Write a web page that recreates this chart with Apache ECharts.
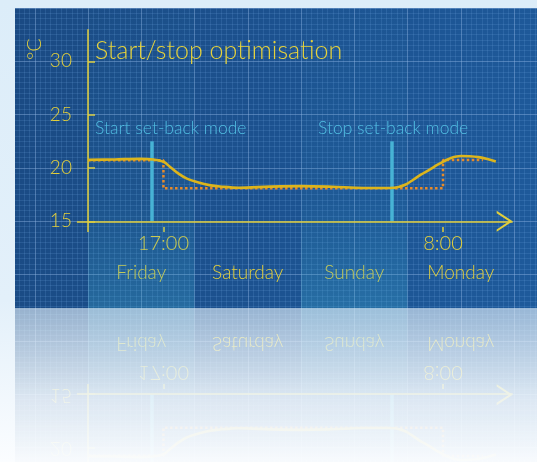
<!DOCTYPE html>
<html><head><meta charset="utf-8">
<script src="https://cdn.jsdelivr.net/npm/echarts@6/dist/echarts.min.js"></script>
<style>
html,body{margin:0;padding:0;width:537px;height:462px;overflow:hidden;}
body{background:linear-gradient(to bottom,#dcedf9 0px,#e3f0fa 300px,#fbfdff 462px);}
#chart{position:absolute;left:15px;top:8px;width:522px;height:300px;
background:linear-gradient(100deg,#1a4a83 0%,#1c5290 50%,#1e5a9b 100%);
-webkit-box-reflect: below 0px linear-gradient(to bottom, rgba(0,0,0,0) 45%, rgba(0,0,0,0.1) 70%, rgba(0,0,0,0.38) 100%);}
</style></head><body><div id="chart"></div>
<script>
// hours counted from Friday 00:00
const roomHours = [0, 6, 11.7, 14.7, 17, 18.5, 20.4, 22.3, 24.5, 27.6, 29.8, 34, 41, 48, 55, 62, 68, 70, 71.6, 73.3, 75, 77, 78.8, 80.3, 81.8, 84, 86, 88, 90, 91.9];
const roomTemp  = [20.76, 20.8, 20.86, 20.8, 20.58, 20.1, 19.47, 19.0, 18.69, 18.37, 18.26, 18.15, 18.25, 18.3, 18.24, 18.13, 18.13, 18.22, 18.45, 18.9, 19.37, 19.85, 20.31, 20.65, 20.94, 21.12, 21.1, 21.02, 20.85, 20.62];
const setHours = [0, 17, 80, 89];
const setTemp  = [20.72, 18.1, 20.75, 20.75];
const setbackStart = 14.4, setbackStop = 68.5, setbackBarTop = 22.5;
const timeTicks = [17, 80];
const timeLabels = ['17:00', '8:00'];
const dayCenters = [12, 36, 60, 84];
const dayNames = ['Friday', 'Saturday', 'Sunday', 'Monday'];
const yTicks = [15, 20, 25, 30];
const dayBands = [[0, 24], [48, 72]];

const FONT = 'Lato, "Open Sans", sans-serif';
const YEL = '#e2cf3c';
const CYAN = '#52bfe3';

const pairs = (xs, ys) => xs.map((x, i) => [x, ys[i]]);

const chart = echarts.init(document.getElementById('chart'), null, {renderer: 'canvas'});
chart.setOption({
  animation: false,
  backgroundColor: 'transparent',
  grid: [
    {left: 61.91, right: 24.33, top: 21.33, bottom: 76, outerBoundsMode: 'none', containLabel: false},
    {left: -33.5, right: -30.25, top: 0, bottom: -20, outerBoundsMode: 'none', containLabel: false}
  ],
  xAxis: [
    {gridIndex: 0, type: 'value', min: -2.5, max: 95.7, position: 'bottom',
     axisLine: {show: false}, splitLine: {show: false},
     axisTick: {show: true, inside: true, length: 5, customValues: timeTicks, lineStyle: {color: YEL, width: 1.5}},
     axisLabel: {show: true, customValues: timeTicks, margin: 2, color: YEL, fontSize: 20, fontFamily: FONT, fontWeight: 300,
       formatter: v => timeLabels[timeTicks.indexOf(v)] || ''}},
    {gridIndex: 0, type: 'value', min: -2.5, max: 95.7, position: 'bottom', offset: 31,
     axisLine: {show: false}, splitLine: {show: false}, axisTick: {show: false},
     axisLabel: {show: true, customValues: dayCenters, margin: 0, color: YEL, fontSize: 19, fontFamily: FONT, fontWeight: 300,
       formatter: v => dayNames[dayCenters.indexOf(v)] || ''}},
    {gridIndex: 1, type: 'value', min: -24, max: 108, interval: 12,
     axisLine: {show: false}, axisTick: {show: false}, axisLabel: {show: false},
     splitLine: {show: true, lineStyle: {color: 'rgba(150,185,230,0.42)', width: 1}},
     minorTick: {show: false, splitNumber: 10},
     minorSplitLine: {show: true, lineStyle: {color: 'rgba(120,170,230,0.17)', width: 1}}}
  ],
  yAxis: [
    {gridIndex: 0, type: 'value', min: 14, max: 33,
     axisLine: {show: false}, splitLine: {show: false},
     axisTick: {show: true, inside: true, length: 7, customValues: yTicks, lineStyle: {color: YEL, width: 1.5}},
     axisLabel: {show: true, customValues: yTicks, margin: 5, color: YEL, fontSize: 19, fontFamily: FONT, fontWeight: 300}},
    {gridIndex: 1, type: 'value', min: 5, max: 35, interval: 5,
     axisLine: {show: false}, axisTick: {show: false}, axisLabel: {show: false},
     splitLine: {show: true, lineStyle: {color: 'rgba(150,185,230,0.42)', width: 1}},
     minorTick: {show: false, splitNumber: 10},
     minorSplitLine: {show: true, lineStyle: {color: 'rgba(120,170,230,0.17)', width: 1}}}
  ],
  series: [
    {type: 'line', xAxisIndex: 2, yAxisIndex: 1, data: [], silent: true, z: 0,
     markArea: {silent: true,
       itemStyle: {color: {type: 'linear', x: 0, y: 0, x2: 0, y2: 1, colorStops: [
         {offset: 0, color: 'rgba(60,170,200,0.02)'},
         {offset: 0.6, color: 'rgba(60,170,200,0.07)'},
         {offset: 1, color: 'rgba(70,185,215,0.30)'}]}},
       data: dayBands.map(b => [{xAxis: b[0]}, {xAxis: b[1]}])}},
    {type: 'line', name: 'setback', xAxisIndex: 0, yAxisIndex: 0, data: [], silent: true, clip: false, z: 2,
     markLine: {silent: true, symbol: ['none', 'none'], label: {show: false},
       lineStyle: {color: '#47b3d5', width: 3.5, type: 'solid'},
       data: [[{coord: [setbackStart, 15]}, {coord: [setbackStart, setbackBarTop]}],
              [{coord: [setbackStop, 15]}, {coord: [setbackStop, setbackBarTop]}]]}},
    {type: 'line', name: 'yaxisline', xAxisIndex: 0, yAxisIndex: 0, data: [], silent: true, clip: false, z: 6,
     markLine: {silent: true, symbol: ['none', 'none'], label: {show: false},
       lineStyle: {color: YEL, width: 1.5, type: 'solid'},
       data: [[{coord: [0, 14]}, {coord: [0, 33]}]]}},
    {type: 'line', name: 'xaxisline', xAxisIndex: 0, yAxisIndex: 0, data: [], silent: true, clip: false, z: 6,
     markLine: {silent: true, symbol: ['none', 'path://M0,16 L10.5,0 L21,16 L18.6,16 L10.5,3.7 L2.4,16 Z'],
       symbolSize: [21, 16], symbolOffset: [[0, 0], [0, 8]], label: {show: false},
       itemStyle: {color: YEL},
       lineStyle: {color: YEL, width: 1.5, type: 'solid'},
       data: [[{coord: [-2.5, 15]}, {coord: [95.7, 15]}]]}},
    {type: 'line', name: 'Setpoint', xAxisIndex: 0, yAxisIndex: 0, step: 'end', symbol: 'none', z: 4,
     lineStyle: {color: '#e88a28', width: 2.5, type: [2.5, 2.5]},
     data: pairs(setHours, setTemp)},
    {type: 'line', name: 'Room', xAxisIndex: 0, yAxisIndex: 0, smooth: 0.35, symbol: 'none', z: 5,
     lineStyle: {color: '#dcb51c', width: 2.6},
     data: pairs(roomHours, roomTemp)}
  ],
  graphic: [
    {type: 'text', x: 80, y: 43, z: 10, style: {text: 'Start/stop optimisation', fill: '#e6d23c', fontSize: 25, fontFamily: FONT, fontWeight: 300, textVerticalAlign: 'middle'}},
    {type: 'text', x: 80, y: 120, z: 10, style: {text: 'Start set-back mode', fill: CYAN, fontSize: 17.5, fontFamily: FONT, fontWeight: 300, textVerticalAlign: 'middle'}},
    {type: 'text', x: 303, y: 120, z: 10, style: {text: 'Stop set-back mode', fill: CYAN, fontSize: 17.5, fontFamily: FONT, fontWeight: 300, textVerticalAlign: 'middle'}},
    {type: 'text', x: 20, y: 41, rotation: Math.PI / 2, z: 10, style: {text: '°C', fill: YEL, fontSize: 20, fontFamily: FONT, fontWeight: 300, textAlign: 'center', textVerticalAlign: 'middle'}}
  ]
});
</script></body></html>
